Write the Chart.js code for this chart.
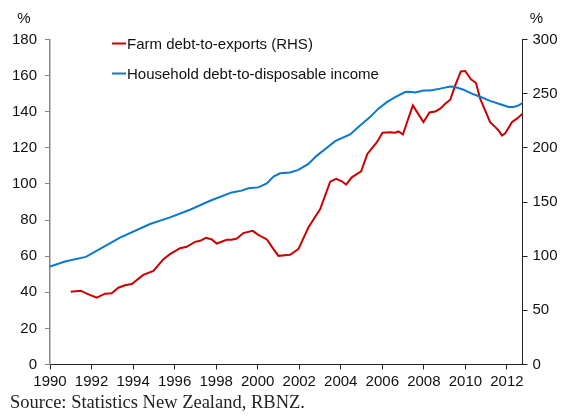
<!DOCTYPE html>
<html>
<head>
<meta charset="utf-8">
<script src="https://cdn.jsdelivr.net/npm/chart.js@4/dist/chart.umd.min.js"></script>
<style>
  html, body { margin: 0; padding: 0; background: #fff; }
  #wrap { position: relative; width: 562px; height: 417px; }
  #source { position: absolute; left: 10px; top: 392px; font: 18.5px 'Liberation Serif', 'Times New Roman', serif; color: #222; white-space: nowrap; }
</style>
</head>
<body>
<div id="wrap">
  <canvas id="chart" width="562" height="417"></canvas>
  <div id="source">Source: Statistics New Zealand, RBNZ.</div>
</div>
<script>
// Household debt-to-disposable income (%, LHS)
const householdYears = [1990.0, 1990.72, 1991.73, 1993.37, 1994.82, 1995.78, 1996.74, 1997.71, 1998.75, 1999.23,
    1999.55, 2000.03, 2000.44, 2000.76, 2001.08, 2001.56, 2001.96, 2002.44, 2002.85, 2003.33,
    2003.73, 2004.45, 2004.93, 2005.41, 2005.81, 2006.22, 2006.62, 2007.10, 2007.34, 2007.58,
    2007.98, 2008.30, 2008.79, 2009.27, 2009.51, 2009.91, 2010.31, 2010.71, 2011.19, 2011.68,
    2012.08, 2012.32, 2012.56, 2012.75];
const householdValues = [54.2, 57.0, 59.6, 70.3, 77.8, 81.5, 85.7, 90.7, 95.3, 96.3,
    97.6, 98.1, 100.3, 104.1, 105.9, 106.4, 107.8, 111.1, 115.7, 120.0,
    123.7, 127.4, 132.4, 137.0, 141.7, 145.3, 148.1, 150.9, 151.1, 150.6,
    151.8, 151.8, 152.8, 153.9, 153.7, 152.2, 150.0, 148.3, 146.0, 144.1,
    142.6, 142.6, 143.5, 144.8];

// Farm debt-to-exports (%, RHS)
const farmYears = [1991.00, 1991.48, 1991.77, 1992.25, 1992.65, 1992.97, 1993.29, 1993.61, 1993.94, 1994.49,
    1994.98, 1995.46, 1995.78, 1996.26, 1996.58, 1996.98, 1997.23, 1997.51, 1997.79, 1998.03,
    1998.51, 1998.75, 1999.00, 1999.31, 1999.76, 2000.03, 2000.44, 2000.76, 2001.00, 2001.32,
    2001.56, 2001.96, 2002.44, 2003.01, 2003.49, 2003.78, 2004.05, 2004.26, 2004.53, 2004.98,
    2005.28, 2005.74, 2006.01, 2006.38, 2006.62, 2006.78, 2006.99, 2007.47, 2007.98, 2008.27,
    2008.55, 2008.79, 2009.03, 2009.27, 2009.51, 2009.78, 2009.99, 2010.27, 2010.51, 2010.71,
    2010.95, 2011.19, 2011.44, 2011.60, 2011.76, 2011.92, 2012.24, 2012.48, 2012.75];
const farmValues = [67.2, 68.1, 65.4, 61.7, 65.4, 65.7, 70.9, 73.1, 74.3, 82.7,
    86.4, 97.2, 101.9, 107.4, 108.6, 113.2, 114.2, 116.9, 115.4, 111.7,
    115.1, 115.1, 116.3, 121.3, 123.4, 119.7, 115.4, 106.5, 100.3, 100.9,
    101.2, 106.5, 126.5, 143.5, 168.8, 171.3, 169.1, 166.0, 172.8, 178.3,
    194.4, 205.2, 213.9, 214.4, 213.9, 215.1, 212.3, 239.2, 223.7, 232.7,
    233.6, 236.1, 240.7, 244.4, 257.7, 270.6, 270.9, 263.2, 259.8, 245.4,
    234.5, 223.7, 219.1, 216.0, 211.4, 213.5, 223.7, 226.9, 231.5];

// axis ticks
const xTickYears = [1990, 1992, 1994, 1996, 1998, 2000, 2002, 2004, 2006, 2008, 2010, 2012];
const xMin = 1990, xMax = 2012.75;
const leftTicks = { min: 0, max: 180, step: 20 };
const rightTicks = { min: 0, max: 300, step: 50 };

const toPoints = (xs, ys) => xs.map((x, i) => ({ x: x, y: ys[i] }));

const FONT = "'Liberation Sans', Arial, sans-serif";
const RED = '#CC0000';
const BLUE = '#0B78CE';

// legend rows drawn by hand (Excel style, inside the plot)
const notesPlugin = {
    id: 'notes',
    afterDraw(chart) {
        const ctx = chart.ctx;
        const area = chart.chartArea;
        ctx.save();
        ctx.font = '15px ' + FONT;
        ctx.textBaseline = 'middle';
        ctx.fillStyle = '#111';

        // legend: farm first, then household
        const rows = [chart.data.datasets[1], chart.data.datasets[0]];
        rows.forEach((ds, i) => {
            const y = 43.5 + i * 30;
            ctx.strokeStyle = ds.borderColor;
            ctx.lineWidth = 2;
            ctx.beginPath();
            ctx.moveTo(112, y);
            ctx.lineTo(126, y);
            ctx.stroke();
            ctx.textAlign = 'left';
            ctx.fillText(ds.label, 127, y + 1);
        });

        // unit labels above both axes
        ctx.textAlign = 'center';
        ctx.fillText('%', area.left - 26, area.top - 21);
        ctx.fillText('%', area.right + 14, area.top - 21);
        ctx.restore();
    }
};

const ctx = document.getElementById('chart').getContext('2d');
const chart = new Chart(ctx, {
    type: 'line',
    data: {
        datasets: [{
            label: 'Household debt-to-disposable income',
            data: toPoints(householdYears, householdValues),
            borderColor: BLUE,
            borderWidth: 2,
            pointRadius: 0,
            tension: 0,
            yAxisID: 'y'
        },
        {
            label: 'Farm debt-to-exports (RHS)',
            data: toPoints(farmYears, farmValues),
            borderColor: RED,
            borderWidth: 2,
            pointRadius: 0,
            tension: 0,
            yAxisID: 'y1'
        }]
    },
    options: {
        responsive: false,
        animation: false,
        layout: { padding: { top: 39.5, left: 0, right: 0, bottom: 0 } },
        plugins: {
            legend: { display: false },
            tooltip: { enabled: false }
        },
        scales: {
            x: {
                type: 'linear',
                min: xMin,
                max: xMax,
                afterBuildTicks: s => { s.ticks = xTickYears.map(v => ({ value: v })); },
                afterFit: s => { s.height = 52.5; },
                ticks: {
                    autoSkip: false,
                    maxRotation: 0,
                    padding: 3,
                    color: '#111',
                    font: { family: FONT, size: 15 },
                    callback: v => String(v)
                },
                grid: { drawOnChartArea: false, tickLength: 5, tickColor: '#222' },
                border: { color: '#222', width: 1 }
            },
            y: {
                position: 'left',
                min: leftTicks.min,
                max: leftTicks.max,
                afterFit: s => { s.width = 50; },
                ticks: {
                    stepSize: leftTicks.step,
                    padding: 8,
                    color: '#111',
                    font: { family: FONT, size: 15 }
                },
                grid: { drawOnChartArea: false, tickLength: 5, tickColor: '#868686' },
                border: { color: '#868686', width: 1.5 }
            },
            y1: {
                position: 'right',
                min: rightTicks.min,
                max: rightTicks.max,
                afterFit: s => { s.width = 39.5; },
                ticks: {
                    stepSize: rightTicks.step,
                    padding: 5,
                    color: '#111',
                    font: { family: FONT, size: 15 }
                },
                grid: { drawOnChartArea: false, tickLength: 5, tickColor: '#222' },
                border: { color: '#222', width: 1 }
            }
        }
    },
    plugins: [notesPlugin]
});
</script>
</body>
</html>
